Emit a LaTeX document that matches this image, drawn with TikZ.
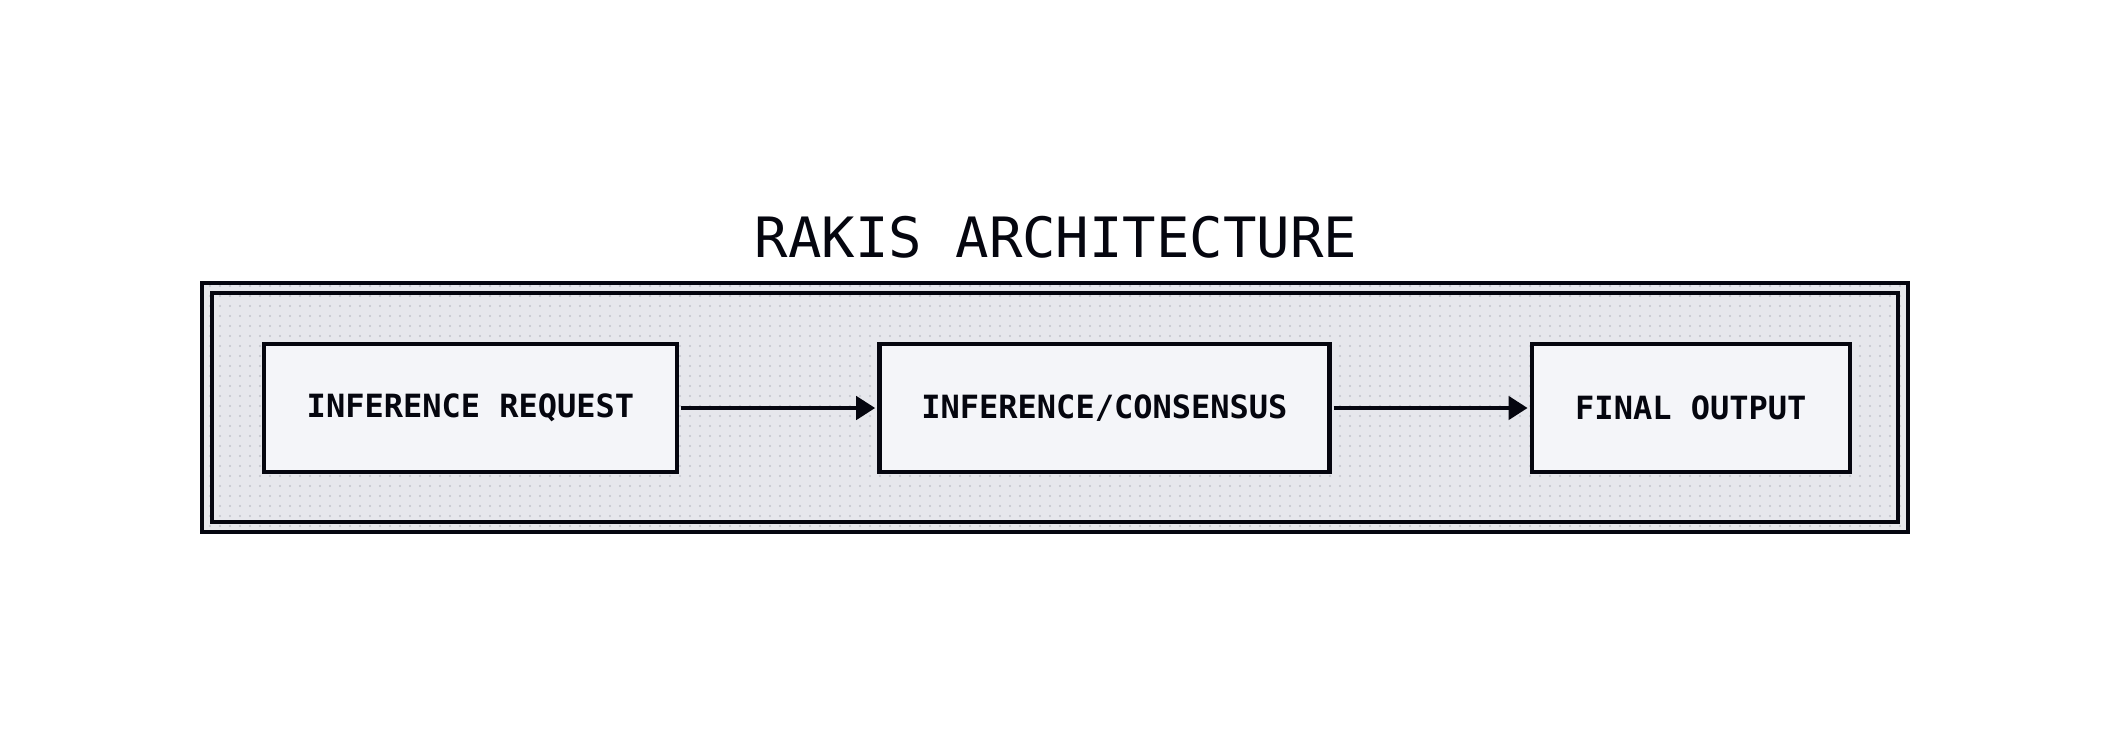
\documentclass[tikz,border=0pt]{standalone}
\usepackage{fontspec}
\setmonofont{DejaVu Sans Mono}
\usetikzlibrary{positioning,arrows.meta,patterns.meta}

\definecolor{ink}{HTML}{05060F}
\definecolor{panelgray}{HTML}{E6E7EC}
\definecolor{boxgray}{HTML}{F4F5F9}
\definecolor{dotgray}{HTML}{C2C4CC}

\begin{document}
\begin{tikzpicture}
[
	x=50pt, y=50pt,
% Frame style
	frame/.style={
		draw=ink,
		line width=2.2pt},
% Stage box style
	stage/.style={
		draw=ink,
		fill=boxgray,
		line width=2.2pt,
		minimum height=64pt,
		text=ink,
		font=\ttfamily\bfseries\fontsize{16}{19}\selectfont},
% Arrow style
	flow/.style={
		draw=ink,
		line width=2.2pt,
		-{Triangle[length=9.5pt,width=11.5pt]},
		shorten <=1pt,
		shorten >=1pt},
]

% Canvas
\useasboundingbox [fill=white] (0,0) rectangle (21.12,7.36);

% Dotted panel and double frame
\fill [panelgray] (2.02,2.04) rectangle (19.08,4.53);
\fill [pattern={Dots[distance=5pt,radius=0.6pt]}, pattern color=dotgray]
	(2.02,2.04) rectangle (19.08,4.53);
\draw [frame] (2.02,2.04) rectangle (19.08,4.53);
\draw [frame] (2.12,2.14) rectangle (18.98,4.43);

% Title
\node [anchor=base, text=ink,
	font=\ttfamily\fontsize{27.8}{33}\selectfont] (title) at (10.56,4.79)
	{RAKIS ARCHITECTURE};

% Stages
\node [stage, minimum width=206.5pt] (request) at (4.705,3.28)
	{INFERENCE REQUEST};

\node [stage, minimum width=225pt, right=99pt of request] (consensus)
	{INFERENCE/CONSENSUS};

\node [stage, minimum width=159pt, right=99pt of consensus] (output)
	{FINAL OUTPUT};

% Arrows
\draw [flow] (request) -- (consensus);
\draw [flow] (consensus) -- (output);

\end{tikzpicture}
\end{document}
